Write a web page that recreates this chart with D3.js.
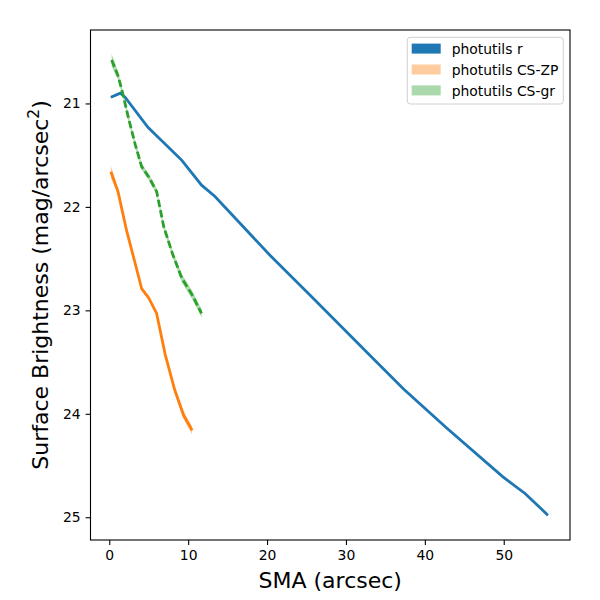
<!DOCTYPE html>
<html>
<head>
<meta charset="utf-8">
<script src="https://cdn.jsdelivr.net/npm/d3@7"></script>
<style>
  body { margin: 0; background: #fff; }
  svg text { font-family: "DejaVu Sans", sans-serif; }
</style>
</head>
<body>
<div id="chart"></div>
<script>
// photutils r
const smaR = [0.2, 1.4, 2.0, 4.9, 9.2, 11.7, 13.4, 20.4, 25.4, 33.5, 37.3, 42.8, 49.9, 52.7, 55.6];
const muR = [20.94, 20.90, 20.94, 21.23, 21.55, 21.79, 21.90, 22.47, 22.85, 23.47, 23.76, 24.14, 24.61, 24.77, 24.98];
const errR = [0.01, 0.01, 0.01, 0.01, 0.01, 0.01, 0.01, 0.01, 0.01, 0.01, 0.01, 0.01, 0.01, 0.01, 0.01];

// photutils CS-ZP
const smaZP = [0.2, 1.1, 2.2, 3.5, 4.1, 5.0, 6.0, 7.1, 8.3, 9.4, 10.5];
const muZP = [21.66, 21.85, 22.23, 22.61, 22.79, 22.88, 23.03, 23.43, 23.77, 24.01, 24.16];
const errZP = [0.06, 0.03, 0.02, 0.02, 0.02, 0.02, 0.02, 0.02, 0.03, 0.04, 0.04];

// photutils CS-gr
const smaGR = [0.3, 1.1, 1.6, 2.4, 3.3, 4.1, 5.0, 6.0, 6.9, 8.0, 9.2, 10.5, 11.7];
const muGR = [20.58, 20.73, 20.87, 21.13, 21.40, 21.61, 21.71, 21.85, 22.19, 22.45, 22.69, 22.85, 23.03];
const errGR = [0.06, 0.04, 0.03, 0.03, 0.03, 0.03, 0.03, 0.03, 0.03, 0.03, 0.04, 0.04, 0.04];

const xTicks = [0, 10, 20, 30, 40, 50];
const yTicks = [21, 22, 23, 24, 25];

const width = 600, height = 600;
const margin = {top: 30, right: 30, bottom: 60, left: 90.5};

const svg = d3.select('#chart').append('svg')
    .attr('width', width)
    .attr('height', height);

const x = d3.scaleLinear()
    .domain([-2.38, 58.4])
    .range([margin.left, width - margin.right]);

// magnitudes: brighter at top
const y = d3.scaleLinear()
    .domain([20.29, 25.22])
    .range([margin.top, height - margin.bottom]);

const series = [
    {name: 'photutils r', sma: smaR, mu: muR, err: errR, color: '#1f77b4', bandOpacity: 1, dash: null},
    {name: 'photutils CS-ZP', sma: smaZP, mu: muZP, err: errZP, color: '#ff7f0e', bandOpacity: 0.4, dash: null},
    {name: 'photutils CS-gr', sma: smaGR, mu: muGR, err: errGR, color: '#2ca02c', bandOpacity: 0.4, dash: '7.4,3.2'}
];

const plot = svg.append('g');

series.forEach(s => {
    const pts = s.sma.map((v, i) => ({x: v, y: s.mu[i], e: s.err[i]}));

    const band = d3.area()
        .x(d => x(d.x))
        .y0(d => y(d.y - d.e))
        .y1(d => y(d.y + d.e));

    plot.append('path')
        .datum(pts)
        .attr('d', band)
        .attr('fill', s.color)
        .attr('fill-opacity', s.bandOpacity)
        .attr('stroke', 'none');

    const line = d3.line()
        .x(d => x(d.x))
        .y(d => y(d.y));

    plot.append('path')
        .datum(pts)
        .attr('d', line)
        .attr('fill', 'none')
        .attr('stroke', s.color)
        .attr('stroke-width', 2.8)
        .attr('stroke-dasharray', s.dash);
});

// axes
const xAxis = d3.axisBottom(x).tickValues(xTicks).tickFormat(d3.format('d')).tickSize(4.9).tickPadding(4.9);
const yAxis = d3.axisLeft(y).tickValues(yTicks).tickFormat(d3.format('d')).tickSize(4.9).tickPadding(4.9);

const gx = svg.append('g')
    .attr('transform', `translate(0,${height - margin.bottom})`)
    .call(xAxis);
const gy = svg.append('g')
    .attr('transform', `translate(${margin.left},0)`)
    .call(yAxis);

[gx, gy].forEach(g => {
    g.select('.domain').remove();
    g.selectAll('.tick line').attr('stroke', '#000').attr('stroke-width', 1.1);
    g.selectAll('.tick text')
        .attr('fill', '#000')
        .style('font-size', '13.9px')
        .style('font-family', '"DejaVu Sans", sans-serif');
});

// frame
svg.append('rect')
    .attr('x', margin.left)
    .attr('y', margin.top)
    .attr('width', width - margin.right - margin.left)
    .attr('height', height - margin.bottom - margin.top)
    .attr('fill', 'none')
    .attr('stroke', '#000')
    .attr('stroke-width', 1.1);

// axis labels
svg.append('text')
    .attr('x', (margin.left + width - margin.right) / 2)
    .attr('y', 588)
    .attr('text-anchor', 'middle')
    .style('font-size', '22px')
    .text('SMA (arcsec)');

const yl = svg.append('text')
    .attr('transform', `translate(48,${(margin.top + height - margin.bottom) / 2}) rotate(-90)`)
    .attr('text-anchor', 'middle')
    .style('font-size', '22px');
yl.append('tspan').text('Surface Brightness (mag/arcsec');
yl.append('tspan').attr('baseline-shift', 'super').style('font-size', '15.4px').text('2');
yl.append('tspan').text(')');

// legend
const legend = svg.append('g').attr('transform', 'translate(407.3,37.3)');
legend.append('rect')
    .attr('width', 156)
    .attr('height', 66.7)
    .attr('rx', 3)
    .attr('fill', '#fff')
    .attr('fill-opacity', 0.8)
    .attr('stroke', '#d0d0d0')
    .attr('stroke-width', 1);

series.forEach((s, i) => {
    const row = legend.append('g').attr('transform', `translate(0,${11.7 + i * 20.9})`);
    row.append('rect')
        .attr('x', 4.4)
        .attr('y', -5.4)
        .attr('width', 29)
        .attr('height', 10)
        .attr('fill', s.color)
        .attr('fill-opacity', s.bandOpacity);
    row.append('text')
        .attr('x', 44.4)
        .attr('y', 0)
        .attr('dy', '0.35em')
        .style('font-size', '13.9px')
        .text(s.name);
});
</script>
</body>
</html>
